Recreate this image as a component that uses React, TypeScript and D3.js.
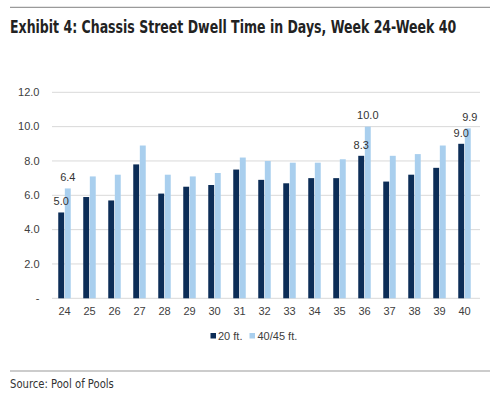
import React from "react";
import * as d3 from "d3";

const weeks = ["24","25","26","27","28","29","30","31","32","33","34","35","36","37","38","39","40"];
const ft20 = [5.0,5.9,5.7,7.8,6.1,6.5,6.6,7.5,6.9,6.7,7.0,7.0,8.3,6.8,7.2,7.6,9.0];
const ft40 = [6.4,7.1,7.2,8.9,7.2,7.1,7.3,8.2,8.0,7.9,7.9,8.1,10.0,8.3,8.4,8.9,9.9];
const seriesNames = ["20 ft.", "40/45 ft."];
const yTicks = [0,2,4,6,8,10,12];
const labeledWeeks = ["24","36","40"];

const colors = ["#0c2d57", "#a9cfee"];

export default function App() {
  const W = 500, H = 398;
  const x0 = d3.scaleBand<string>().domain(weeks).range([52, 477]).paddingInner(0.5).paddingOuter(0.25);
  const x1 = d3.scaleBand<string>().domain(seriesNames).range([0, x0.bandwidth()]).paddingInner(0.1);
  const y = d3.scaleLinear().domain([0, 12]).range([298.3, 92.3]);
  const series = [ft20, ft40];
  const fmt = (v: number) => (v === 0 ? "-" : d3.format(".1f")(v));
  const axisFont = "'Liberation Sans', Arial, sans-serif";
  const narrow = "'DejaVu Sans Condensed', 'Liberation Sans Narrow', sans-serif";

  return (
    <svg width={W} height={H} style={{ position: "absolute", left: 0, top: 0, background: "#fff" }}>
      <rect x={0} y={0} width={W} height={H} fill="#fff" />
      <line x1={10} x2={490} y1={7.3} y2={7.3} stroke="#9a9a9a" strokeWidth={1.2} />
      <text transform="translate(10,33) scale(0.82,1)" fontFamily={narrow} fontWeight="bold" fontSize={17} fill="#222">
        Exhibit 4: Chassis Street Dwell Time in Days, Week 24-Week 40
      </text>

      {yTicks.map((t) => (
        <g key={t}>
          <line x1={52} x2={480} y1={y(t)} y2={y(t)} stroke="#d9d9d9" strokeWidth={1} />
          <text x={39.5} y={y(t)} dy="0.35em" textAnchor="end" fontFamily={axisFont} fontSize={11} fill="#404040">
            {fmt(t)}
          </text>
        </g>
      ))}

      {weeks.map((w, i) => (
        <g key={w} transform={`translate(${x0(w)},0)`}>
          {series.map((s, k) => (
            <rect key={k} x={x1(seriesNames[k])} y={y(s[i])} width={x1.bandwidth()} height={y(0) - y(s[i])} fill={colors[k]} />
          ))}
          {labeledWeeks.includes(w) &&
            series.map((s, k) => (
              <text key={"l" + k} x={(x1(seriesNames[k]) as number) + x1.bandwidth() / 2 + (w === "40" && k === 1 ? 2 : 0)} y={y(s[i]) - 11} dy="0.35em" textAnchor="middle" fontFamily={axisFont} fontSize={11} fill="#333">
                {d3.format(".1f")(s[i])}
              </text>
            ))}
          <text x={x0.bandwidth() / 2} y={311} dy="0.35em" textAnchor="middle" fontFamily={axisFont} fontSize={11} fill="#404040">
            {w}
          </text>
        </g>
      ))}

      <g fontFamily={axisFont} fontSize={11} fill="#404040">
        <rect x={210.5} y={333} width={5.5} height={5.5} fill={colors[0]} />
        <text x={218} y={335.8} dy="0.35em">{seriesNames[0]}</text>
        <rect x={249.5} y={333} width={5.5} height={5.5} fill={colors[1]} />
        <text x={257.5} y={335.8} dy="0.35em">{seriesNames[1]}</text>
      </g>

      <line x1={10} x2={490} y1={371} y2={371} stroke="#9a9a9a" strokeWidth={1.2} />
      <text transform="translate(10,387.5) scale(0.86,1)" fontFamily={narrow} fontSize={13} fill="#333">
        Source: Pool of Pools
      </text>
    </svg>
  );
}
